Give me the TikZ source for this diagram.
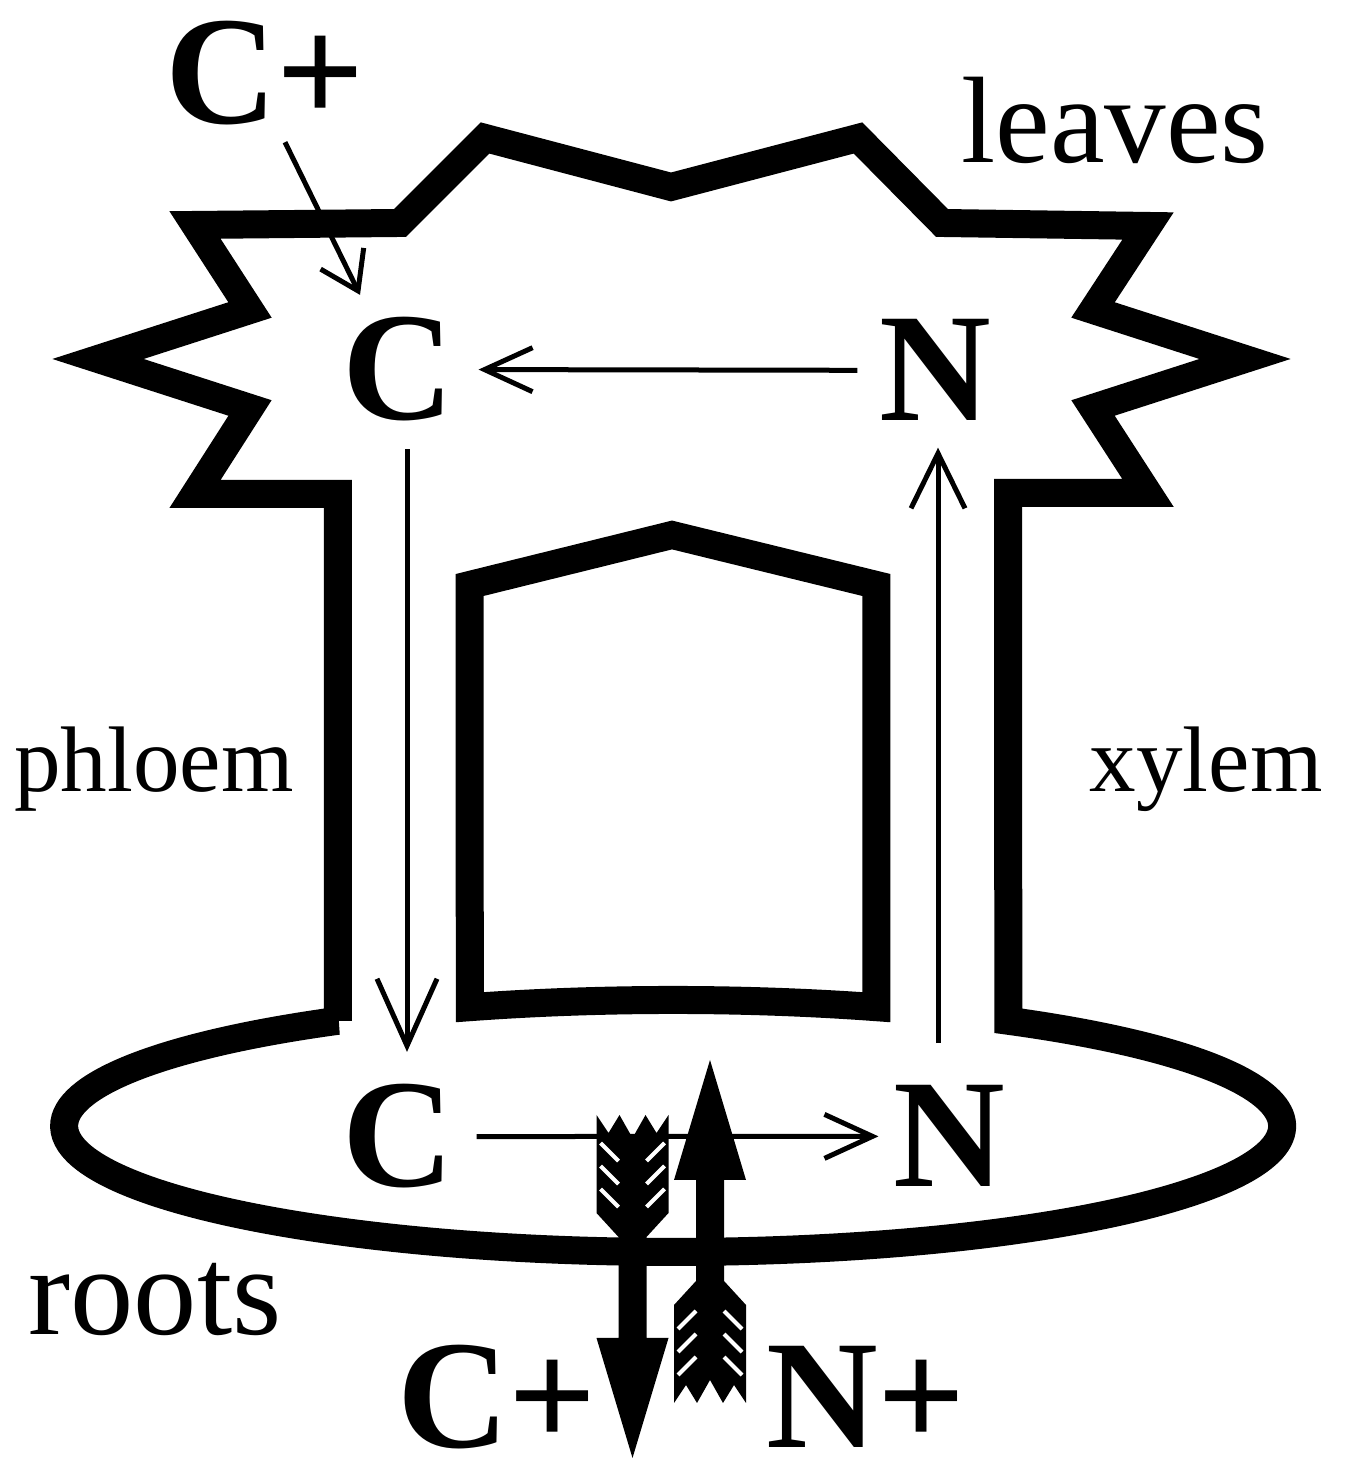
\documentclass[tikz,border=0pt]{standalone}
\usepackage{fontspec}
\setmainfont{Liberation Serif}
\usetikzlibrary{arrows.meta}

\begin{document}
\begin{tikzpicture}[
 wall/.style={line width=0.28cm},
 flow/.style={line width=0.05cm,-{Straight Barb[length=0.48cm,width=0.44cm]}},
 el/.style={font=\bfseries\fontsize{44}{44}\selectfont,inner sep=0pt,anchor=base},
 tag/.style={font=\fontsize{26.5}{26.5}\selectfont,inner sep=0pt,anchor=base},
 fatarrow/.pic={
  \fill (-0.36,0) -- (-0.24,-0.18) -- (-0.13,0) -- (0,-0.23) -- (0.13,0) -- (0.24,-0.18) -- (0.36,0)
   -- (0.36,-0.98) -- (0.14,-1.22) -- (0.14,-2.23) -- (0.36,-2.23) -- (0,-3.43)
   -- (-0.36,-2.23) -- (-0.14,-2.23) -- (-0.14,-1.22) -- (-0.36,-0.98) -- cycle;
  \foreach \y in {0.28,0.51,0.74} {
   \draw[white,line width=0.04cm] (-0.32,-\y) -- ++(0.18,-0.18);
   \draw[white,line width=0.04cm] (0.32,-\y) -- ++(-0.18,-0.18);
  }}]
\useasboundingbox (0,0) rectangle (13.44,14.62);

% plant outline: trunk, leaves and root ellipse
\draw[wall] (3.3775,4.412) -- (3.3775,9.68) -- (1.95,9.68) -- (2.50,10.54) -- (0.98,11.03) -- (2.50,11.52)
 -- (1.95,12.37) -- (4.00,12.39) -- (4.85,13.24) -- (6.71,12.75) -- (8.58,13.24) -- (9.42,12.39)
 -- (11.48,12.36) -- (10.93,11.52) -- (12.45,11.03) -- (10.93,10.54) -- (11.48,9.69) -- (10.08,9.69)
 -- (10.083,4.412) arc[start angle=56.6,end angle=-236.6,x radius=6.09,y radius=1.26] -- cycle;
\draw[wall] (8.763,4.548) arc[start angle=70.5,end angle=109.5,x radius=6.09,y radius=1.26]
 -- (4.697,8.77) -- (6.72,9.27) -- (8.763,8.77) -- cycle;

\node[el] (cplus) at (2.65,13.38) {C+};
\node[el] (cleaf) at (3.98,10.42) {C};
\node[el] (nleaf) at (9.35,10.41) {N};
\node[el] (croot) at (3.98,2.75) {C};
\node[el] (nroot) at (9.49,2.75) {N};
\node[el] (cout) at (4.97,0.14) {C+};
\node[el] (nin) at (8.66,0.14) {N+};

\node[tag,font=\fontsize{35}{35}\selectfont] (leaves) at (11.15,12.99) {leaves};
\node[tag] (phloem) at (1.54,6.70) {phloem};
\node[tag] (xylem) at (12.06,6.70) {xylem};
\node[tag,font=\fontsize{36}{36}\selectfont] (roots) at (1.55,1.27) {roots};

\draw[flow,-{Straight Barb[length=0.36cm,width=0.48cm]}] ([xshift=0.2cm,yshift=-0.16cm]cplus.south) -- ([xshift=-0.38cm,yshift=0.22cm]cleaf.north);
\draw[flow,shorten <=0.21cm,shorten >=0.24cm] (nleaf.west) -- (cleaf.east);
\draw[flow,-{Straight Barb[length=0.67cm,width=0.6cm]},shorten <=0.27cm,shorten >=0.32cm] ([xshift=0.09cm]cleaf.south) -- ([xshift=0.09cm]croot.north);
\draw[flow,-{Straight Barb[length=0.55cm,width=0.54cm]},shorten <=0.42cm,shorten >=0.26cm] ([xshift=-0.11cm]nroot.north) -- ([xshift=0.03cm]nleaf.south);
\draw[flow,shorten <=0.22cm,shorten >=0.14cm] (croot.east) -- (nroot.west);

\pic at (6.325,3.47) {fatarrow};
\pic[rotate=180] at (7.10,0.59) {fatarrow};
\end{tikzpicture}
\end{document}
